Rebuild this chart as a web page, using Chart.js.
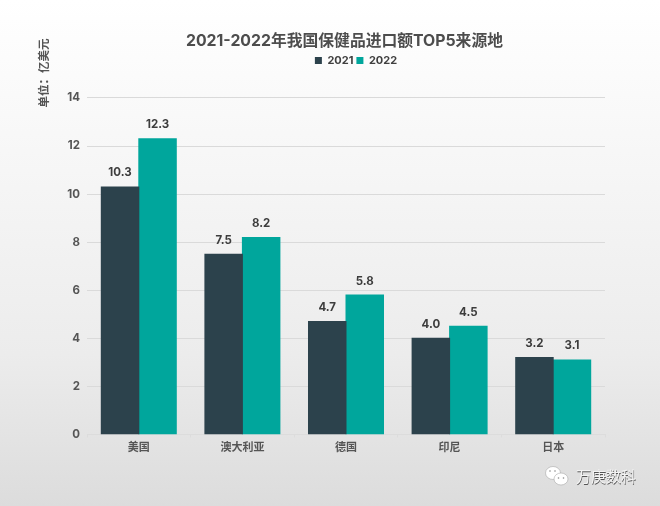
<!DOCTYPE html>
<html><head><meta charset="utf-8">
<script src="https://cdn.jsdelivr.net/npm/chart.js@4"></script>
<style>
html,body{margin:0;padding:0;width:660px;height:506px;overflow:hidden}
body{background:linear-gradient(180deg,#ffffff 0%,#f7f7f7 30%,#ececec 70%,#dcdcdc 100%);position:relative}
canvas{position:absolute;left:0;top:0}
</style></head><body>
<canvas id="c" width="660" height="506"></canvas>
<script>
const categories = ["美国","澳大利亚","德国","印尼","日本"];
const series2021 = [10.3,7.5,4.7,4.0,3.2];
const series2022 = [12.3,8.2,5.8,4.5,3.1];
const titleText = "2021-2022年我国保健品进口额TOP5来源地";
const unitText = "单位：亿美元";
const markText = "万庚数科";
const FONT = 'Inter, "Noto Sans CJK SC", sans-serif';

const extras = {
  id:'extras',
  afterLayout(chart){
    const l=chart.legend; l.left+=53.5; l.right+=53.5; l.top-=22; l.bottom-=22;
    const t=chart.titleBlock; t.left+=42; t.right+=42;
  },
  afterDatasetsDraw(chart){
    const ctx=chart.ctx; ctx.save();
    ctx.font='bold 11.5px '+FONT; ctx.fillStyle='#3d3d3d'; ctx.textAlign='center'; ctx.textBaseline='middle';
    chart.data.datasets.forEach((ds,i)=>{
      chart.getDatasetMeta(i).data.forEach((bar,j)=>{
        ctx.fillText(ds.data[j].toFixed(1),bar.x,bar.y-14);
      });
    });
    // unit label
    ctx.save(); ctx.translate(45,73); ctx.rotate(-Math.PI/2);
    ctx.font='bold 11.5px '+FONT; ctx.fillStyle='#555'; ctx.fillText(unitText,0,0); ctx.restore();
    // watermark
    ctx.font='15px '+FONT; ctx.textAlign='left';
    ctx.fillStyle='#555'; ctx.fillText(markText,576.5,478);
    ctx.fillStyle='#f4f4f4'; ctx.fillText(markText,576,477.5);
    const bub=(x,y,rx,ry)=>{ctx.beginPath();ctx.ellipse(x,y,rx,ry,0,0,Math.PI*2);ctx.fill();ctx.strokeStyle='#aaa';ctx.lineWidth=.6;ctx.stroke();};
    ctx.fillStyle='#fff'; bub(553,473,7.5,6.5); bub(561,479,7,6);
    ctx.fillStyle='#888';
    [[550,471],[555,471],[558.5,478],[563.5,478]].forEach(p=>{ctx.beginPath();ctx.arc(p[0],p[1],.8,0,Math.PI*2);ctx.fill();});
    ctx.restore();
  }
};

new Chart(document.getElementById('c'),{
  type:'bar',
  data:{labels:categories,datasets:[
    {label:'2021',data:series2021,backgroundColor:'#2c424c',borderWidth:0,inflateAmount:0.5},
    {label:'2022',data:series2022,backgroundColor:'#00a69c',borderWidth:0,inflateAmount:0.5}
  ]},
  options:{
    responsive:false,animation:false,devicePixelRatio:1,
    layout:{padding:{left:0,right:55,top:32,bottom:51.5}},
    datasets:{bar:{categoryPercentage:0.724,barPercentage:1}},
    plugins:{
      tooltip:{enabled:false},
      title:{display:true,text:titleText,color:'#4d4d4d',font:{family:FONT,size:15.8,weight:'bold'},padding:{top:0,bottom:23}},
      legend:{display:true,position:'top',labels:{boxWidth:7,boxHeight:7,padding:3,color:'#404040',font:{family:FONT,size:11,weight:'bold'}}}
    },
    scales:{
      x:{
        grid:{drawOnChartArea:false,drawTicks:true,tickLength:3,color:'#dcdcdc'},
        border:{color:'#dcdcdc'},
        ticks:{color:'#555',font:{family:FONT,size:11,weight:'bold'},padding:4,maxRotation:0},
        afterFit(s){s.height=20;}
      },
      y:{
        min:0,max:14,
        grid:{color:'#dadada',drawTicks:false,lineWidth:1},
        border:{display:false},
        ticks:{stepSize:2,color:'#555',font:{family:FONT,size:11.5,weight:'bold'},padding:7},
        afterFit(s){s.width=87;}
      }
    }
  },
  plugins:[extras]
});
</script>
</body></html>
